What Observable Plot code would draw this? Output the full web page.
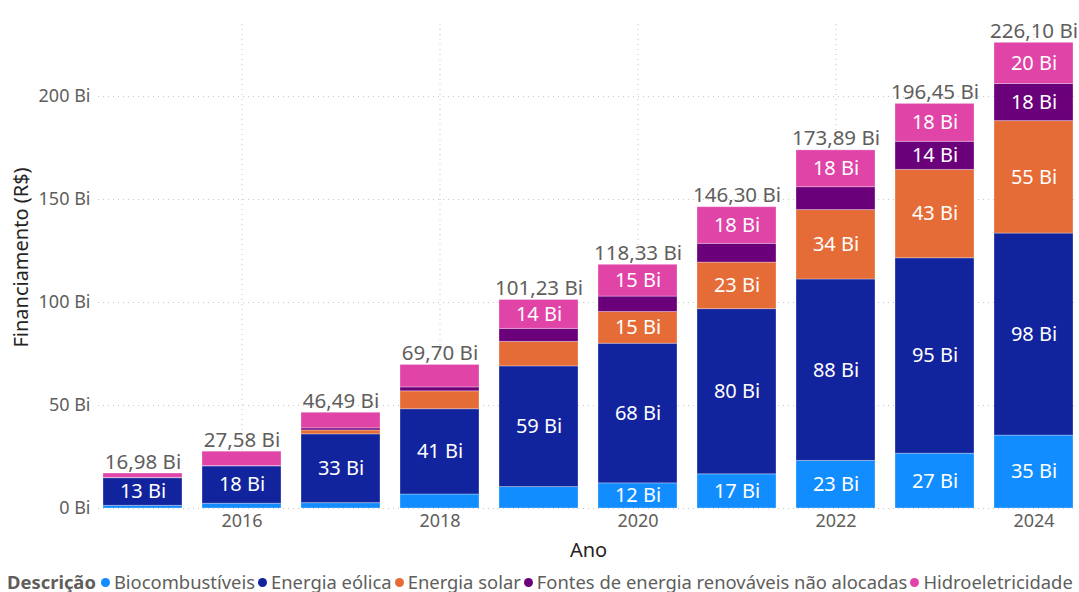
<!DOCTYPE html>
<html>
<head>
<meta charset="utf-8">
<script src="https://cdn.jsdelivr.net/npm/d3@7"></script>
<script src="https://cdn.jsdelivr.net/npm/@observablehq/plot@0.6"></script>
<style>
  body { margin: 0; background: #fff; font-family: "Segoe UI", "Noto Sans", sans-serif; }
  #chart svg { display: block; }
  #legend { font-size: 18.4px; color: #605E5C; white-space: nowrap; padding-left: 7px; height: 30px; line-height: 30px; margin-top: 5px; }
  #legend b { color: #605E5C; margin-right: 5px; }
  #legend .item { margin-right: 3px; }
  #legend .dot { display: inline-block; width: 9px; height: 9px; border-radius: 50%; margin-right: 4px; vertical-align: 2px; }
</style>
</head>
<body>
<div id="chart"></div>
<div id="legend"></div>
<script>
const years = [2015, 2016, 2017, 2018, 2019, 2020, 2021, 2022, 2023, 2024];
const series = ["Biocombustíveis", "Energia eólica", "Energia solar", "Fontes de energia renováveis não alocadas", "Hidroeletricidade"];
const colors = ["#118DFF", "#12239E", "#E66C37", "#6B007B", "#E044A7"];
const biocombustiveis = [1.3, 2.3, 2.6, 6.8, 10.4, 12.2, 16.6, 23.1, 26.6, 35.4];
const eolica = [13.4, 18.2, 33.4, 41.4, 58.6, 67.8, 80.2, 88.1, 94.9, 98.1];
const solar = [0.1, 0.05, 1.9, 8.7, 11.9, 15.4, 22.6, 33.7, 42.9, 54.6];
const naoAlocadas = [0.1, 0.03, 1.0, 1.9, 6.3, 7.5, 9.1, 11.1, 13.65, 18.0];
const hidro = [2.08, 7.0, 7.59, 10.9, 14.03, 15.43, 17.8, 17.89, 18.4, 20.0];
const totals = [16.98, 27.58, 46.49, 69.70, 101.23, 118.33, 146.30, 173.89, 196.45, 226.10];
const xTicks = [2016, 2018, 2020, 2022, 2024];
const yTicks = [0, 50, 100, 150, 200];

const valuesBySeries = [biocombustiveis, eolica, solar, naoAlocadas, hidro];
const data = [];
series.forEach((s, i) => years.forEach((y, j) => data.push({ano: y, desc: s, valor: valuesBySeries[i][j]})));
const totalData = years.map((y, j) => ({ano: y, total: totals[j]}));

const fmtTotal = v => v.toFixed(2).replace(".", ",") + " Bi";
const font = '"Segoe UI", "Noto Sans", sans-serif';

const chart = Plot.plot({
  width: 1079,
  height: 562,
  marginLeft: 98,
  marginRight: 1,
  marginTop: 24,
  marginBottom: 54,
  style: {fontFamily: font, fontSize: "18px", color: "#605E5C", background: "#fff"},
  x: {type: "band", domain: years, paddingInner: 0.2, paddingOuter: 0, label: null, axis: null},
  y: {domain: [0, 235], label: null, axis: null},
  color: {domain: series, range: colors},
  marks: [
    Plot.gridY(yTicks, {stroke: "#C8C6C4", strokeOpacity: 1, strokeDasharray: "1,4"}),
    Plot.gridX(xTicks, {stroke: "#C8C6C4", strokeOpacity: 1, strokeDasharray: "1,4"}),
    Plot.text(yTicks, {y: d => d, frameAnchor: "left", textAnchor: "end", dx: -8, text: d => d + " Bi", fill: "#605E5C", fontSize: 18}),
    Plot.text(xTicks, {x: d => d, frameAnchor: "bottom", lineAnchor: "top", dy: 6, text: d => String(d), fill: "#605E5C", fontSize: 18}),
    Plot.barY(data, Plot.stackY({x: "ano", y: "valor", fill: "desc", order: series, stroke: "white", strokeOpacity: 0.3, strokeWidth: 1})),
    Plot.text(data, Plot.stackY({x: "ano", y: "valor", z: "desc", order: series,
      text: d => d.valor >= 12 ? Math.round(d.valor) + " Bi" : "",
      fill: "white", fontSize: 20})),
    Plot.text(totalData, {x: "ano", y: "total", text: d => fmtTotal(d.total), lineAnchor: "bottom", dy: -5, fill: "#605E5C", fontSize: 20.5}),
    Plot.text(["Financiamento (R$)"], {frameAnchor: "left", textAnchor: "middle", rotate: -90, dx: -77, dy: -9, fill: "#252423", fontSize: 20}),
    Plot.text(["Ano"], {frameAnchor: "bottom", dy: 48, fill: "#252423", fontSize: 20})
  ]
});
document.getElementById("chart").appendChild(chart);

const legend = document.getElementById("legend");
legend.innerHTML = "<b>Descrição</b>" + series.map((s, i) =>
  `<span class="item"><span class="dot" style="background:${colors[i]}"></span>${s}</span>`).join("");
</script>
</body>
</html>
